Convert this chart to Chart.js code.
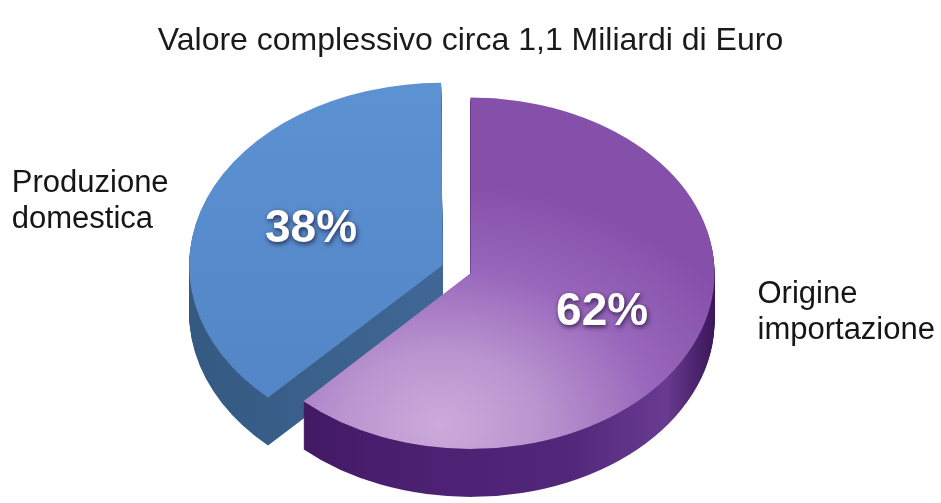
<!DOCTYPE html>
<html lang="it">
<head>
<meta charset="utf-8">
<title>Valore complessivo</title>
<script src="https://cdn.jsdelivr.net/npm/chart.js@4.4.1/dist/chart.umd.min.js"></script>
<style>
  html, body { margin: 0; padding: 0; background: #fff; }
  #wrap { width: 941px; height: 503px; position: relative; }
</style>
</head>
<body>
<div id="wrap"><canvas id="torta"></canvas></div>
<script>
// dati
const titolo = 'Valore complessivo circa 1,1 Miliardi di Euro';
const categorie = [['Origine', 'importazione'], ['Produzione', 'domestica']];
const quote = [62, 38];
const stacco = [0, 120]; // la fetta blu è staccata (Chart.js divide per 4)

// effetto 3D: schiacciamento verticale e spessore del disco
const SCHIACCIA = 0.72;
const SPESSORE = 48;
const RAGGIO = 244;
const FONT = '"Liberation Sans", Arial, Helvetica, sans-serif';

function centro(chart) {
  const a = chart.chartArea;
  return { x: (a.left + a.right) / 2, y: (a.top + a.bottom) / 2 };
}

// colore della faccia superiore
function coloreSopra(c) {
  const chart = c.chart;
  if (!chart.chartArea) return c.dataIndex === 0 ? '#8c57b0' : '#5a8dce';
  const ctx = chart.ctx;
  const o = centro(chart);
  if (c.dataIndex === 0) {
    const g = ctx.createRadialGradient(o.x - 30, o.y + 210, 0, o.x - 30, o.y + 210, 335);
    g.addColorStop(0, '#cdaadb');
    g.addColorStop(0.3, '#b994cf');
    g.addColorStop(0.65, '#9866bb');
    g.addColorStop(1, '#8550aa');
    return g;
  }
  const g = ctx.createLinearGradient(0, o.y - RAGGIO, 0, o.y + RAGGIO);
  g.addColorStop(0, '#5d92d2');
  g.addColorStop(1, '#5084c4');
  return g;
}

// colori del fianco
function coloriFianco(ctx, o) {
  const viola = ctx.createLinearGradient(o.x - RAGGIO, 0, o.x + RAGGIO, 0);
  viola.addColorStop(0, '#3b1559');
  viola.addColorStop(0.35, '#4b1f70');
  viola.addColorStop(0.7, '#52277a');
  viola.addColorStop(0.9, '#683b90');
  viola.addColorStop(1, '#3c165a');
  const blu = ctx.createLinearGradient(o.x - RAGGIO - 40, 0, o.x, 0);
  blu.addColorStop(0, '#33587f');
  blu.addColorStop(1, '#406796');
  return [viola, blu];
}

function schiaccia(ctx, cy, dy) {
  ctx.translate(0, cy + dy);
  ctx.scale(1, SCHIACCIA);
  ctx.translate(0, -cy);
}

const torta3d = {
  id: 'torta3d',
  beforeDatasetsDraw(chart) {
    const ctx = chart.ctx;
    const archi = chart.getDatasetMeta(0).data;
    const o = centro(chart);
    const fianchi = coloriFianco(ctx, o);
    for (let d = SPESSORE; d > 0; d--) {
      ctx.save();
      schiaccia(ctx, o.y, d);
      archi.forEach((arco, i) => {
        const copia = Object.create(arco);
        copia.options = Object.assign({}, arco.options, { backgroundColor: fianchi[i] });
        copia.draw(ctx);
      });
      ctx.restore();
    }
    ctx.save();
    schiaccia(ctx, o.y, 0);
  },
  afterDatasetsDraw(chart) {
    const ctx = chart.ctx;
    ctx.restore();
    const archi = chart.getDatasetMeta(0).data;
    const o = centro(chart);

    // percentuali sulle fette
    archi.forEach((arco, i) => {
      const medio = (arco.startAngle + arco.endAngle) / 2;
      const dist = (arco.options.offset || 0) / 4 + arco.outerRadius * 0.58;
      const x = arco.x + Math.cos(medio) * dist;
      const y = o.y + (arco.y + Math.sin(medio) * dist - o.y) * SCHIACCIA;
      ctx.save();
      ctx.font = 'bold 46px ' + FONT;
      ctx.textAlign = 'center';
      ctx.textBaseline = 'middle';
      ctx.shadowColor = 'rgba(20, 10, 40, 0.75)';
      ctx.shadowBlur = 5;
      ctx.shadowOffsetX = 1;
      ctx.shadowOffsetY = 2;
      ctx.fillStyle = '#ffffff';
      ctx.fillText(quote[i] + '%', x, y + 2);
      ctx.restore();
    });

    // etichette delle categorie, fuori dal disco
    ctx.save();
    ctx.font = '31px ' + FONT;
    ctx.fillStyle = '#161616';
    ctx.textAlign = 'left';
    ctx.textBaseline = 'alphabetic';
    const destra = o.x + RAGGIO + 43;
    categorie[0].forEach((riga, k) => ctx.fillText(riga, destra, o.y + 30 + k * 36));
    const larg = Math.max(...categorie[1].map(r => ctx.measureText(r).width));
    const blu = archi[1];
    const bordoBlu = blu.x + Math.cos((blu.startAngle + blu.endAngle) / 2) * 30 - blu.outerRadius;
    const sinistra = bordoBlu - 30 - larg;
    categorie[1].forEach((riga, k) => ctx.fillText(riga, sinistra, o.y - 81 + k * 36));
    ctx.restore();
  }
};

new Chart(document.getElementById('torta'), {
  type: 'pie',
  data: {
    labels: categorie,
    datasets: [{
      data: quote,
      backgroundColor: coloreSopra,
      borderWidth: 0,
      offset: stacco,
      hoverOffset: 0
    }]
  },
  options: {
    responsive: true,
    maintainAspectRatio: false,
    animation: false,
    radius: RAGGIO,
    layout: { padding: { left: 0, right: 0, top: 0, bottom: 27 } },
    plugins: {
      legend: { display: false },
      tooltip: { enabled: false },
      title: {
        display: true,
        text: titolo,
        color: '#1a1a1a',
        font: { family: FONT, size: 32, weight: 'normal' },
        padding: { top: 22, bottom: 10 }
      }
    }
  },
  plugins: [torta3d]
});
</script>
</body>
</html>
